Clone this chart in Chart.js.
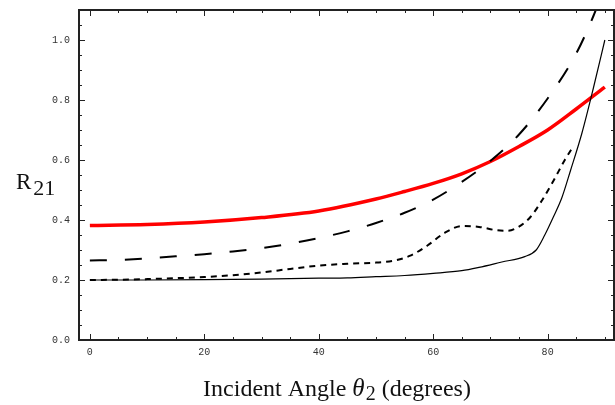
<!DOCTYPE html>
<html>
<head>
<meta charset="utf-8">
<script src="https://cdn.jsdelivr.net/npm/chart.js@4/dist/chart.umd.min.js"></script>
<style>
  html, body { margin: 0; padding: 0; background: #fff; }
  #chart { display: block; }
</style>
</head>
<body>
<canvas id="chart" width="615" height="405"></canvas>
<script>
// Reflection coefficient R21 vs incident angle
const angleRed = [0, 10, 20, 30, 40, 50, 55, 60, 65, 70, 75, 80, 85, 90];
const valRed = [0.382, 0.385, 0.393, 0.408, 0.430, 0.470, 0.495, 0.522, 0.554, 0.595, 0.645, 0.700, 0.770, 0.843];

const angleLong = [0, 5, 10, 15, 20, 25, 30, 35, 40, 45, 50, 55, 60, 65, 70, 75, 80, 85, 88, 90];
const valLong = [0.265, 0.267, 0.272, 0.279, 0.286, 0.295, 0.306, 0.321, 0.340, 0.362, 0.390, 0.424, 0.468, 0.527, 0.597, 0.685, 0.805, 0.955, 1.080, 1.180];

const angleShort = [0, 5, 10, 15, 20, 25, 30, 35, 40, 45, 50, 53, 56, 59, 62, 65, 68, 71, 73, 75, 77, 79, 81, 83, 84.3];
const valShort = [0.200, 0.201, 0.203, 0.206, 0.210, 0.216, 0.225, 0.237, 0.248, 0.254, 0.258, 0.264, 0.281, 0.315, 0.357, 0.380, 0.377, 0.366, 0.364, 0.378, 0.410, 0.465, 0.530, 0.600, 0.640];

const angleSolid = [0, 10, 20, 30, 40, 45, 50, 55, 60, 65, 68, 72, 76, 78, 79.5, 81, 82.5, 84, 86, 88, 90];
const valSolid = [0.200, 0.200, 0.201, 0.203, 0.206, 0.207, 0.211, 0.215, 0.222, 0.231, 0.242, 0.260, 0.278, 0.300, 0.350, 0.410, 0.475, 0.565, 0.690, 0.840, 1.000];

// tick positions / labels
const xTicks = [0, 5, 10, 15, 20, 25, 30, 35, 40, 45, 50, 55, 60, 65, 70, 75, 80, 85, 90];
const xLabels = [0, 20, 40, 60, 80];
const yTicks = [0, 0.05, 0.1, 0.15, 0.2, 0.25, 0.3, 0.35, 0.4, 0.45, 0.5, 0.55, 0.6, 0.65, 0.7, 0.75, 0.8, 0.85, 0.9, 0.95, 1.0, 1.05];
const yLabels = [0, 0.2, 0.4, 0.6, 0.8, 1.0];

function pts(xs, ys) {
    return xs.map((x, i) => ({ x: x, y: ys[i] }));
}

function isLabel(list, v) {
    return list.some(l => Math.abs(l - v) < 1e-6);
}

const serif = '"Liberation Serif", "Times New Roman", serif';

// frame, inward ticks and the two axis titles
const frameTicks = {
    id: 'frameTicks',
    afterDraw(chart) {
        const ctx = chart.ctx;
        const a = chart.chartArea;
        const x = chart.scales.x;
        const y = chart.scales.y;
        ctx.save();
        ctx.strokeStyle = '#222';
        ctx.lineWidth = 1;
        ctx.beginPath();
        xTicks.forEach(v => {
            const px = Math.round(x.getPixelForValue(v)) + 0.5;
            const len = isLabel(xLabels, v) ? 6 : 3;
            ctx.moveTo(px, a.bottom); ctx.lineTo(px, a.bottom - len);
            ctx.moveTo(px, a.top); ctx.lineTo(px, a.top + len);
        });
        yTicks.forEach(v => {
            const py = Math.round(y.getPixelForValue(v)) + 0.5;
            const len = isLabel(yLabels, v) ? 6 : 3;
            ctx.moveTo(a.left, py); ctx.lineTo(a.left + len, py);
            ctx.moveTo(a.right, py); ctx.lineTo(a.right - len, py);
        });
        ctx.stroke();

        ctx.lineWidth = 2;
        ctx.strokeRect(a.left, a.top, a.right - a.left, a.bottom - a.top);

        // x title with subscript
        ctx.fillStyle = '#111';
        ctx.textBaseline = 'alphabetic';
        ctx.textAlign = 'left';
        const big = '24px ' + serif;
        const theta = 'italic 25px ' + serif;
        const sub = '20px ' + serif;
        const p1 = 'Incident Angle ';
        const p2 = '\u03B8';
        const p3 = '2';
        const p4 = ' (degrees)';
        ctx.font = big;
        const w1 = ctx.measureText(p1).width;
        const w4 = ctx.measureText(p4).width;
        ctx.font = theta;
        const w2 = ctx.measureText(p2).width + 1;
        ctx.font = sub;
        const w3 = ctx.measureText(p3).width;
        let tx = 337 - (w1 + w2 + w3 + w4) / 2;
        const ty = 396;
        ctx.font = big;
        ctx.fillText(p1, tx, ty);
        ctx.font = theta;
        ctx.fillText(p2, tx + w1, ty);
        ctx.font = sub;
        ctx.fillText(p3, tx + w1 + w2, ty + 4);
        ctx.font = big;
        ctx.fillText(p4, tx + w1 + w2 + w3, ty);

        // y title R21
        ctx.font = '23px ' + serif;
        ctx.fillText('R', 16, 189);
        const wr = ctx.measureText('R').width;
        ctx.font = '22px ' + serif;
        ctx.fillText('21', 16 + wr + 2, 195);
        ctx.restore();
    }
};

new Chart(document.getElementById('chart'), {
    type: 'line',
    data: {
        datasets: [
            {
                data: pts(angleSolid, valSolid),
                borderColor: '#000',
                borderWidth: 1.2
            },
            {
                data: pts(angleShort, valShort),
                borderColor: '#000',
                borderWidth: 2,
                borderDash: [6, 5]
            },
            {
                data: pts(angleLong, valLong),
                borderColor: '#000',
                borderWidth: 2,
                borderDash: [17, 18]
            },
            {
                data: pts(angleRed, valRed),
                borderColor: '#ff0000',
                borderWidth: 3.5
            }
        ]
    },
    options: {
        responsive: false,
        animation: false,
        devicePixelRatio: 1,
        layout: { padding: { top: 10, right: 1, left: 0, bottom: 0 } },
        elements: {
            point: { radius: 0 },
            line: { cubicInterpolationMode: 'monotone', fill: false }
        },
        plugins: {
            legend: { display: false },
            tooltip: { enabled: false }
        },
        scales: {
            x: {
                type: 'linear',
                min: -1.9,
                max: 91.6,
                grid: { display: false, drawTicks: false },
                border: { display: false },
                afterBuildTicks: s => { s.ticks = xLabels.map(v => ({ value: v })); },
                afterFit: s => { s.height = 65; s.paddingLeft = 0; s.paddingRight = 0; },
                ticks: {
                    padding: 6,
                    color: '#333',
                    font: { family: '"Liberation Mono", monospace', size: 10 },
                    callback: v => String(v)
                }
            },
            y: {
                type: 'linear',
                min: 0,
                max: 1.1,
                grid: { display: false, drawTicks: false },
                border: { display: false },
                afterBuildTicks: s => { s.ticks = yLabels.map(v => ({ value: v })); },
                afterFit: s => { s.width = 79; s.paddingTop = 0; s.paddingBottom = 0; },
                ticks: {
                    padding: 9,
                    color: '#333',
                    font: { family: '"Liberation Mono", monospace', size: 10 },
                    callback: v => Number(v).toFixed(1)
                }
            }
        }
    },
    plugins: [frameTicks]
});
</script>
</body>
</html>
